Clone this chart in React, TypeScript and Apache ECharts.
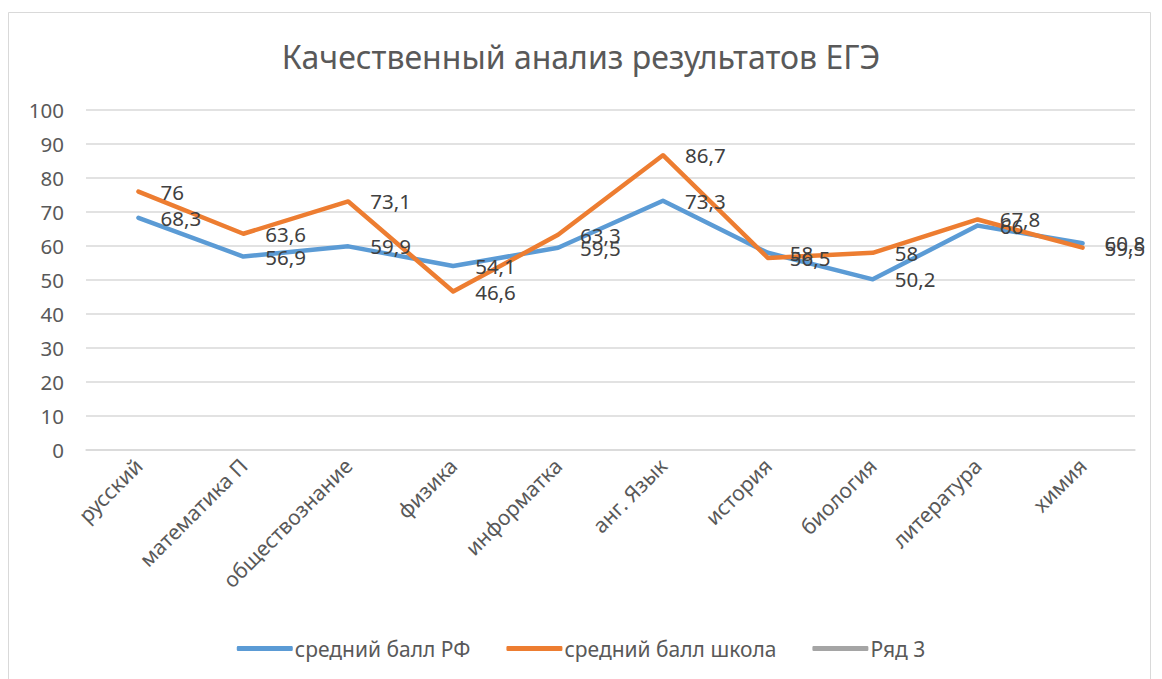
import React, { useEffect, useRef } from "react";
import * as echarts from "echarts";

const categories = ["русский", "математика П", "обществознание", "физика", "информатка", "анг. Язык", "история", "биология", "литература", "химия"];
const rfScores = [68.3, 56.9, 59.9, 54.1, 59.5, 73.3, 58, 50.2, 66, 60.8];
const schoolScores = [76, 63.6, 73.1, 46.6, 63.3, 86.7, 56.5, 58, 67.8, 59.5];
const series3: (number | null)[] = [];
const seriesNames = ["средний балл РФ", "средний балл школа", "Ряд 3"];
const titleText = "Качественный анализ результатов ЕГЭ";

const FONT = "'Noto Sans', sans-serif";

export default function App() {
  const ref = useRef<HTMLDivElement>(null);
  useEffect(() => {
    if (!ref.current) return;
    const chart = echarts.init(ref.current, null, { renderer: "svg" });
    const label = {
      show: true,
      position: "right" as const,
      distance: 21,
      color: "#404040",
      fontSize: 20.5,
      fontFamily: FONT,
      formatter: (p: any) => String(p.value).replace(".", ","),
    };
    const mk = (name: string, data: any[], color: string, withLabel: boolean) => ({
      name,
      type: "line",
      data,
      symbol: "circle",
      symbolSize: 2,
      showSymbol: true,
      lineStyle: { color, width: 4.5, cap: "round", join: "round" },
      itemStyle: { color },
      label: withLabel ? label : { show: false },
    });
    chart.setOption({
      animation: false,
      title: {
        text: titleText,
        left: "center",
        top: 35,
        textStyle: { color: "#595959", fontSize: 32, fontWeight: "normal", fontFamily: FONT },
      },
      legend: {
        top: 633,
        left: "center",
        itemWidth: 56,
        itemHeight: 5,
        itemGap: 36,
        icon: "roundRect",
        textStyle: { color: "#595959", fontSize: 21, fontFamily: FONT, padding: [0, 0, 0, -3] },
        data: seriesNames,
      },
      grid: { left: 86, right: 27, top: 110, bottom: 229 },
      xAxis: {
        type: "category",
        data: categories,
        boundaryGap: true,
        axisLine: { lineStyle: { color: "#D9D9D9", width: 1.5 } },
        axisTick: { show: false },
        axisLabel: { rotate: 45, color: "#595959", fontSize: 21, fontFamily: FONT, margin: 12, interval: 0 },
      },
      yAxis: {
        type: "value",
        min: 0,
        max: 100,
        interval: 10,
        axisLine: { show: false },
        axisTick: { show: false },
        axisLabel: { color: "#595959", fontSize: 20.5, fontFamily: FONT, margin: 22 },
        splitLine: { lineStyle: { color: "#D9D9D9", width: 1.5 } },
      },
      series: [
        mk(seriesNames[0], rfScores, "#5B9BD5", true),
        mk(seriesNames[1], schoolScores, "#ED7D31", true),
        mk(seriesNames[2], series3, "#A5A5A5", false),
      ],
      graphic: [
        {
          type: "rect",
          shape: { x: 8.5, y: 12.5, width: 1142, height: 680 },
          style: { fill: "none", stroke: "#D9D9D9", lineWidth: 1 },
          silent: true,
        },
      ],
    });
    return () => chart.dispose();
  }, []);
  return <div ref={ref} style={{ width: 1162, height: 679, position: "absolute", left: 0, top: 0 }} />;
}
